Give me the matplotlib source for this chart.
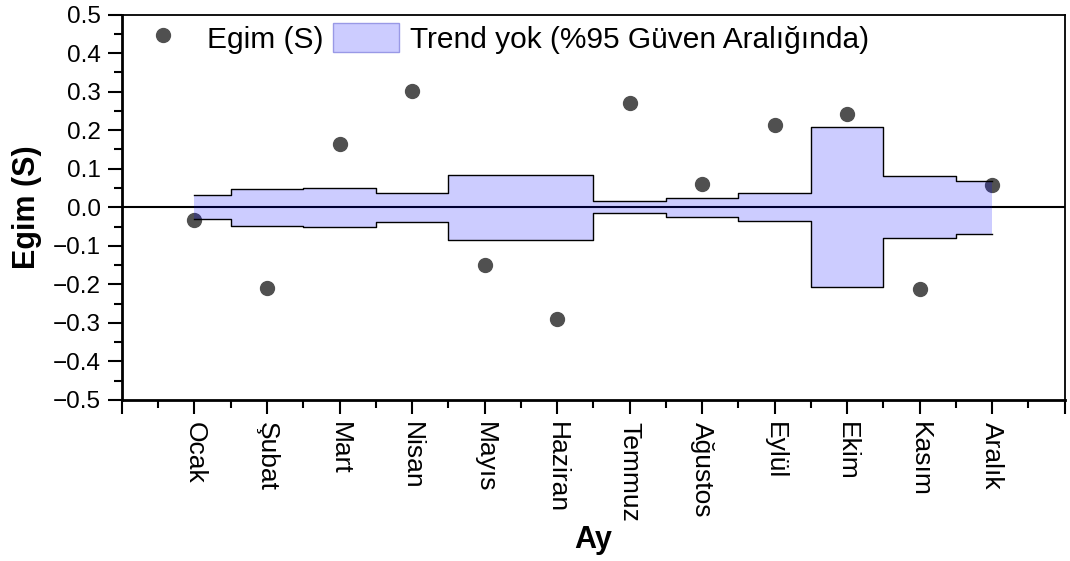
import numpy as np
import matplotlib
matplotlib.use("Agg")
import matplotlib.pyplot as plt
from matplotlib.patches import Patch
from matplotlib.lines import Line2D
from matplotlib.ticker import MultipleLocator

plt.rcParams['font.family'] = ['Liberation Sans', 'DejaVu Sans']

# aylar ve Sen egim degerleri
aylar = ["Ocak", "Şubat", "Mart", "Nisan", "Mayıs", "Haziran",
         "Temmuz", "Ağustos", "Eylül", "Ekim", "Kasım", "Aralık"]
egim = [-0.034, -0.209, 0.164, 0.301, -0.151, -0.289,
        0.271, 0.060, 0.213, 0.243, -0.213, 0.059]
# %95 guven araligi (ust / alt)
ust_sinir = [0.031, 0.048, 0.050, 0.038, 0.085, 0.083,
             0.016, 0.025, 0.036, 0.208, 0.080, 0.069]
alt_sinir = [-0.031, -0.048, -0.050, -0.038, -0.086, -0.085,
             -0.016, -0.025, -0.036, -0.207, -0.079, -0.070]

x = np.arange(1, len(aylar) + 1)

fig = plt.figure(figsize=(10.7, 5.61), dpi=100)
ax = fig.add_axes([0.114, 0.287, 0.881, 0.687])

ax.axhline(0, color="black", linewidth=1.5, zorder=1)
ax.plot(x, egim, "o", color="#505050", markersize=10, zorder=2)
ax.fill_between(x, alt_sinir, ust_sinir, step="mid",
                facecolor=(0, 0, 1, 0.2), linewidth=0, zorder=3)
ax.step(x, ust_sinir, where="mid", color="black", linewidth=1, zorder=4)
ax.step(x, alt_sinir, where="mid", color="black", linewidth=1, zorder=4)

ax.set_xlim(0, 13)
ax.set_ylim(-0.5, 0.5)
ax.set_xticks(np.arange(0, 14))
ax.set_xticklabels([""] + aylar + [""], rotation=-90, fontsize=19)
ax.xaxis.set_minor_locator(MultipleLocator(0.5))
ax.yaxis.set_major_locator(MultipleLocator(0.1))
ax.yaxis.set_minor_locator(MultipleLocator(0.05))
ax.set_yticklabels([f"{v:.1f}".replace("-", "\u2212") for v in ax.get_yticks()],
                   fontsize=17.5)

ax.tick_params(which="major", direction="out", length=10, width=1.5)
ax.tick_params(which="minor", direction="out", length=6, width=1.5)
ax.tick_params(axis="x", pad=6)
ax.tick_params(axis="y", pad=5)
for s in ["left", "bottom"]:
    ax.spines[s].set_linewidth(2)
for s in ["top", "right"]:
    ax.spines[s].set_linewidth(1.3)

ax.set_xlabel("Ay", fontsize=22, fontweight="bold", labelpad=2)
ax.set_ylabel("Egim (S)", fontsize=22, fontweight="bold", labelpad=8)

handles = [
    Line2D([], [], marker="o", linestyle="none", color="#505050", markersize=10),
    Patch(facecolor=(0, 0, 1, 0.2), edgecolor=(0.6, 0.6, 0.9), linewidth=1),
]
ax.legend(handles, ["Egim (S)", "Trend yok (%95 Güven Aralığında)"],
          loc="upper left", ncol=2, frameon=False, fontsize=21.5,
          handlelength=2.2, handleheight=1.1, columnspacing=0.33,
          handletextpad=0.37, borderpad=0.2, borderaxespad=0.0,
          bbox_to_anchor=(0.002, 0.993))

fig.savefig("out.png", dpi=100)
